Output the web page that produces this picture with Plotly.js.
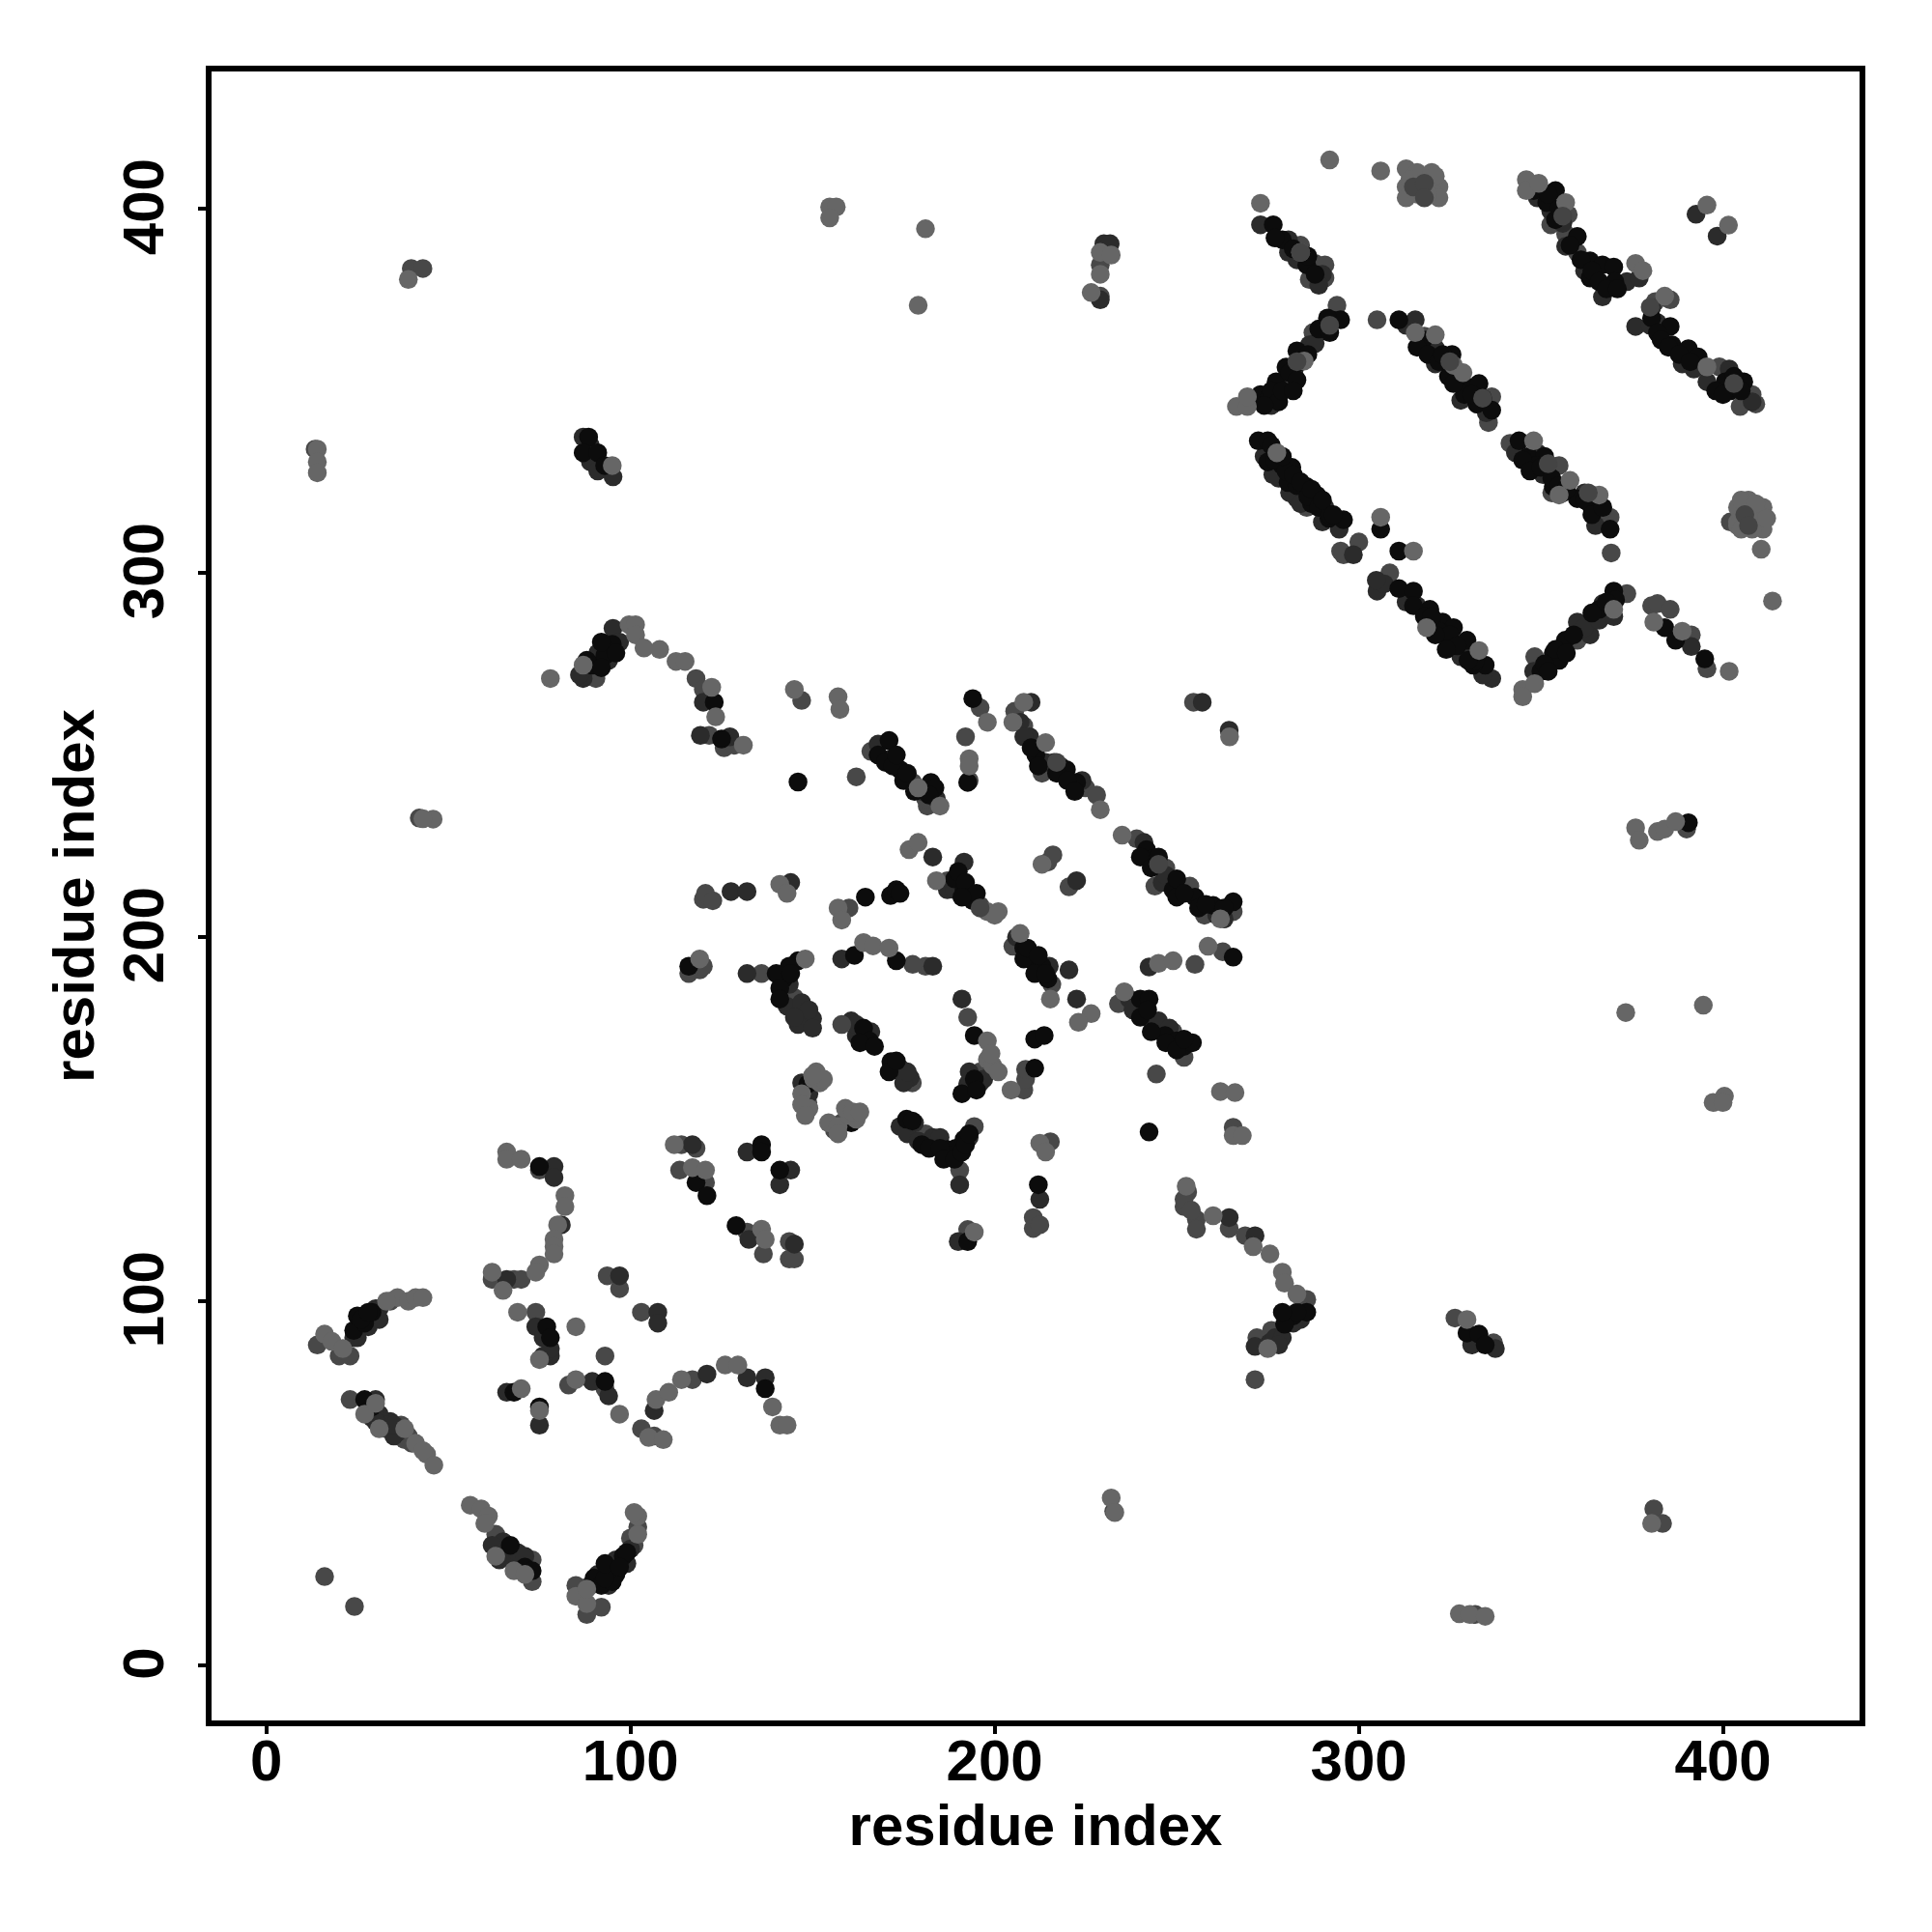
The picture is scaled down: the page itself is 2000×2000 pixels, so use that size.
<!DOCTYPE html>
<html><head><meta charset="utf-8">
<script src="https://cdn.plot.ly/plotly-3.0.1.min.js"></script>
<style>html,body{margin:0;padding:0;background:#fff}</style></head>
<body><div id="chart" style="width:2000px;height:2000px"></div>
<script>
var axisTicks = [0,100,200,300,400];
var axisLabel = "residue index";
var blackPoints = [[24,92],[25,96],[27,94],[29,97],[26,95],[27,73],[29,71],[67,33],[71,27],[73,26],[90,24],[92,22],[96,25],[95,23],[98,30],[99,31],
[75,137],[77,93],[78,90],[68,75],[75,71],[93,78],[137,76],[118,132.6],[121,129],[129,120.8],[136,143],[136,141],[141,136],
[146,242.6],[116,192],[146,193.5],[143.6,192],[142,188.5],[161.5,195],[173,193.5],[164.5,211],[171.4,211.4],[173,213],[174,212],
[171,254],[168,250],[174,246],[182.5,242.5],[183.6,241],[194,265.5],[192.6,242.5],[211.3,250],[219.7,246],[222.5,242.5],
[241.7,224],[243.4,221.6],[255,211],[260,208.7],[265.5,209.7],[249,213],[189,216],[191.6,213],[194,210],[208,197],[210.5,193.5],[213,192],[214.6,188.5],
[265.5,194.5],[240,183],[242.4,183],[246.8,173],[250,171.5],[252,170],[254.3,171],[242.4,146.5],[164,175],[165.6,171.5],[171.5,165.8],[194.4,173],[194.4,161],
[211,164],[211,172],[213.6,173],[148.7,159.7],[160.6,149],[175.8,150],[177.4,149.5],[187,141.7],[189.3,142],[191.6,144.5],[188,140],[212,132],[192.6,116.4],
[285.7,97],[282,96],[279.6,93.7],[89.5,274.7],[93,277.4],[95,280.4],[96,278],[123,264.5],[125,254.4],[88.5,337.3],[87,333],[91,333],[92.9,329.5],
[276.5,395.6],[279,391.5],[285.7,384.6],[273,349],[275.5,348.4],[277.3,352.5],[280,356.5],[283,361],[290.7,367.7],[293,369.4],[295,369.5],[291.4,370],
[311,369.5],[317.7,364],[325.6,360],[324.6,354],[330,351],[333,352],[332.4,346.4],[336.5,344.7],[344,336.3],[346.6,332],[351,332],[348.7,329.5],[353.4,323.7],[360,320.4],[356,322],[363.6,318.7],[369,312],
[272.4,336.3],[275,336.3],[275,330.5],[279,329.5],[281.6,329],[280.6,324.8],[285.7,323.7],[288.4,321.4],[291.8,315],[295.8,314.6],[287,319],[306,312],[311,306],
[311,295.7],[315,295],[319.5,290],[323,286.5],[326,285],[324.6,281.5],[329.7,281.5],[334.7,274.7],[331.4,274.7],[350,273],[353.4,278],[355,276],[356.7,281.5],[370,295],[366,290],[370.5,292.6],
[384,285],[387,281.5],[395,276.4],[348,405],[354,405],[351.6,401.7],[360,392.4],[363.5,385.7],[366.9,384.6],[363.5,381],[370,384],[370.3,380],[380.4,370],[385.5,367.7],[382,366],[386,362.6],[390.5,361.6],[393.2,359.3],[400.6,352.5],[405.7,352.5],[402,350],[403,351],
[390.5,231.4],[329.7,91.3],[333,91],[334.7,88]];
var blackBandPoints = [[277,331],[280,328],[283,324],[286,321],[289,318],[292,316],[276,335],[279,332],[282,327],[284,325],[287,323],[290,320],[293,316],
[316,362],[319,360],[322,358],[327,354],[329,349],[331,349],[334,348],[323,360],[326,352],[345,331],[347,328],[350,329],[353,326],[355,324],[357,323],[362,320],[364,316],[367,318],
[315,291],[318,288],[320,287],[322,284],[325,283],[327,280],[332,276],[321,283],[324,279],[330,276],[320,288],[351,275],[352,273],[354,279],[357,278],[359,283],[364,289],[368,292],
[276,350],[278,347],[279,350],[281,355],[283,353],[284,358],[286,360],[289,367],[292,366],[274,346],[282,350],[352,404],[354,397],[355,400],[358,390],[361,386],[364,383],[366,380],[368,378],[371,378],
[383,364],[385,362],[388,360],[391,358],[398,350],[400,349],[403,354],[405,350],[277,392],[282,389],[286,387],[288,382],
[170,248],[172,247],[173,250],[175,243],[176,245],[178,240],[182,239],[210,252],[212,247],[217,245],[220,243],[222,240],[240,222],[243,219],[245,222],[250,216],[250,211],[252,212],[256,208],[258,209],[263,208],
[190,218],[192,215],[193,211],[195,212],[191,211],[208,194],[209,197],[211,190],[212,195],[214,190],[240,178],[242,180],[243,174],[247,171],[250,169],[252,172],
[140,190],[141,186],[144,190],[141,183],[163,171],[167,170],[171,163],[173,166],[180,143],[182,142],[185,142],[186,139],[189,139],[191,141],[192,143],[193,146],[191,157],[195,158],[88,276],[92,274],[92,281],[93,24],[93,28],[97,27],[28,97],[283,97],[279,97]];
var darkPoints = [[24,90],[31,98],[28,93],[30,98],[30,73],[31,69],[34,67],[33,65],[36,64],[65,34],[66,30],[69,28],[91,25],[94,27],[96,29],
[79,137],[79,134],[81,121],[66,106],[74,93],[78,85],[66,75],[75,66],[89.5,78],[94,74],[97,107],[107.5,97],[107.5,94],[106.5,70],[121,80],[132,79],[137,79],
[117,143],[132.5,117],[145,115.7],[132,141],[144,136],[141,132],[143.6,187],[147,179],[148.7,178],[150,177.6],[158,194],[183,192],[132,190],
[127.6,212.5],[132,212.5],[144,215],[171.5,249],[210,264.5],[209.6,255],[216.3,248],[248.5,215.5],[222.5,215.5],[183,222],[191.6,220.6],[220.4,191],[222.5,183],
[242.4,191.8],[244.4,176.6],[160.6,177],[162,173],[174,164],[176.8,161.4],[191,183],[192.6,159.7],[196,160],[190.4,132],[212.4,128],[190,116.4],[183,145],[193,145],
[257,264.5],[264.4,256.8],[264.4,123],[271.5,118],[271.5,87.6],[275.5,88.6],[277,90],[87,271],[91,278],[95.2,284.8],[120,264.5],[119.2,255.4],[127.3,255],[87,337.3],[89,330.5],[90,331],[95.2,326.4],
[230,390.4],[231.7,390.4],[229,375],[273,395.6],[280.7,391.5],[280.7,388],[290,382],[277,348],[282.3,356],[286.4,362.6],[315.5,369.5],[321,361.7],[321,357.4],[328,347.4],
[350.6,327],[362,322],[276.4,327],[283,320.4],[290.7,318],[294.6,312],[298.5,305],[305,295],[307,297],[304.8,298],[316,291],[329.7,278],[336.5,271],[360,286.5],[363.5,283],[367,291.6],
[391.3,279.8],[352.7,399.4],[356.8,389.7],[362,383],[366.9,375.8],[373.6,380],[377,381],[376,367.7],[380.4,372.8],[382,368.7],[388.8,357.4],[401.7,356],[395.6,352.5],[392.6,398.5],[398.4,392.5],[331,88],[337.5,87],
[274,332],[278,326],[281,322],[284,319],[290,314],[313,368],[335,344],[343,333],[349,333],[365,313],[313,292],[328,277],[334,272],[348,273],[362,285],[366,287],[370,288],[276,346],[288,363],[349,403],[356,396],[380,368],[392,356],[408,347],[283,386],[289,379],
[168,253],[180,240],[184,238],[207,259],[208,255],[214,248],[218,247],[224,243],[241,226],[246,215],[247,217],[261,206],[263,205],[187,213],[189,213],[206,200],[215,192],[237,183],[238,180],[245,177],[248,175],
[143,181],[146,176],[147,182],[149,180],[150,175],[145,178],[162,176],[164,173],[166,174],[175,160],[176,163],[174,148],[176,146],[178,149],[179,144],[185,145],[193,163],[197,161],[86,272],[90,276],[94,276],[97,281],
[62,33],[64,29],[67,31],[69,31],[71,30],[89,22],[99,28],[100,32],[94,22],[25,90],[31,95],[28,71],[29,68],[32,67],[35,63],[76,90],[76,85],[78,87],[279,90],[284,95],[282,94],[278,88],[91,328],[89,335],
[33,66],[35,66],[30,67],[147,160],[149,157]];
var midPoints = [[14,88],[20,85],[23,85],[34,100],[23,73],[39,63],[37,66],[63,36],[64,32],[73,29],[73,23],[85,22],[88,14],[92,16],[101,33],[102,38],[100,35],
[75,136],[68,106],[70,106],[62,106],[74,97],[93,85],[83,77],[93,76],[93.6,107],[97,103.5],[103,97],[103,65],[106.5,63],[117,78.5],
[114,143],[118,142],[113.5,136],[120.6,132.6],[132,119],[136.5,113],[143.6,116.4],[143.6,111.6],[145,111.6],[147,265],[162,244],[119,191],[120,192],[116,190],[136,190],[145,183.4],
[181,192],[177.5,192.5],[120,210.4],[120.6,212],[122.6,210],[160,208],[166,251],[177.5,242.5],[181.5,236],[181,238],[196,263],[192,255],[193,243],[205.5,262],[208,258],[213,245],[225,241],[228,239],
[239,227],[247,219],[253.6,214],[265.5,207],[257.6,206],[244,214],[214.6,220.6],[216,222.6],[220.4,213.8],[187,215.5],[196,208.7],[205,197.5],[215.7,187],[255,192.5],[262.6,196],
[234,181.7],[241.7,179],[252,167],[249,174],[244.4,162.4],[177.4,160],[192.6,178],[196,163],[208,158],[208.5,161],[208.5,163.7],[148.7,154.6],[178.4,146],[181,146],[183.6,144.5],[194.4,148],[190.4,136],
[210.6,123],[210.6,120],[212.4,121],[192.6,119.7],[215.3,143.8],[254.6,264.5],[265.5,147.8],[252,126],[255.4,122.5],[255.4,119.8],[264.4,120],[268.8,118],[253,130],[285.7,100.5],[276,92],[272,90],[271.5,78.5],
[90.5,271],[118,271],[120,268],[121.6,255.4],[125.7,252],[128.4,252.7],[39.8,383.6],[43,383.6],[13.4,334],[42,232.7],[229,384.6],[229,376],[284,390],[288,385],[290.7,384.6],[286.4,380.6],[290.7,381],
[280.7,352.5],[287.4,366],[294,373.5],[305,369.5],[318,365],[336.5,348.4],[335.6,341.3],[341.5,335.6],[355,329.5],[353,322],[369,315.3],[366,315.3],[369.3,305.5],[285.7,318],[295.8,305],[300,308.5],[295,306],[308.5,300],
[348.3,277],[360,281.5],[363.5,286.5],[373.6,294.3],[380.4,291],[382,291.6],[385.5,290],[391.3,283],[395.6,273.7],[357.5,398.4],[352.7,395.6],[356.8,393],[360,388],[381.4,374.5],[385.5,375],[399,356.6],[408,349],[404.7,345.7],[409,346.4],
[402,314],[390,229.7],[326.4,95.4],[337,88.6],[332,14],[381,43],[383.4,39],[232.7,42.3],[16,24.4],[24.2,16.2],
[156,147],[158,149],[36,63],[38,62],[40,61],[252,128],[254,125]];
var lightPoints = [[16,91],[18,89],[21,87],[36,101],[39,100],[41,101],[43,101],[33,100],[27,69],[30,72],[31,65],[38,65],[41,61],[44,58],[46,55],[43,59],
[56,44],[59,43],[61,41],[60,39],[63,30],[68,26],[71,25],[85,19],[88,17],[88,21],[102,36],[102,41],[101,42],
[66,141],[66,139],[70,139],[82,129],[82,126],[80,121],[79,117],[79,115],[79,113],[75,110],[74,108],[62,108],[65,103],[69,97],[75,84],[85,93],[70,76],[75,70],[85,78.5],[97,69],
[105,62.6],[109,62],[107,73],[110.5,75],[114,78.5],[126,82.5],[129.5,82.5],[139,71],[141,66],[143,66],[112,143],[117,136.7],[120.6,136],[136,119.8],[137,117],
[145,268],[157,266],[157.5,262.5],[119,194],[148,194],[164,198.5],[166.6,197.6],[171,197],[141,214.5],[143,212],[157,208],[158,204.7],[179,241],[185,236],[198,259],[193,249],[193,247],
[208,264.5],[205,259],[214,253.4],[229,235],[235,228],[262,205],[213,220],[176.5,224],[179,226],[184,215.5],[198,207],[201,207],[200,206],[207,201],[215.3,183],[226.5,179],[223,176.6],
[245,192.8],[249,193.5],[258.6,197.5],[235.6,185],[198,171.5],[198,166.4],[199.5,164.7],[204.5,158],[150.3,161],[152,160],[147,157],[149,153],[154.4,149],[157,148],[160,151],[162,150],[194.4,119],
[212.4,143.4],[214,141],[264.5,255],[262,157.6],[266,157.3],[265.5,145.5],[268,145.5],[252.6,131.6],[260,123.5],[271,115],[275.6,113],[279,108],[279.6,105],[283,102],[275,87],
[78,271],[87,274.7],[99.6,285.8],[101.4,285.8],[101.4,283],[103.7,279.4],[108,279],[112.5,275.7],[115,275.7],[122.3,268.6],[123.4,260.5],[131,252.7],
[39,380.6],[14,334],[14,330.5],[14,327.5],[45.8,232.4],[43,232.5],[95,329.5],[154.7,400.5],[156.5,400.5],[154.7,397.5],[181,394.5],[179,373.5],[229,388],[232,387.3],[229,382],[226.5,377],
[292,413.4],[306,410.4],[313,411],[316,410],[320,410],[313,406],[322,406],[313,403],[316,404],[320,405],[273,401.5],[284,388],
[266.4,345.7],[269.4,345.7],[269.4,348.4],[285,358.2],[315.5,366],[321,365.4],[326,357],[328.6,355],[348,336.3],[358,325.4],[366,321.4],[355,321.4],[277.5,333],[306,315.3],[315,306],
[318.6,285],[333,278.7],[345,268],[348.3,269.6],[345,266],[370,290],[381,286.5],[388.8,284],[401.7,273],[346,408],[346,405],[349.4,407],[356.8,401.7],[376,385],[378,383],[384,376],[395.6,356.6],
[395.6,401],[401.5,395.5],[404,318],[407,320],[411,318],[404,314],[410,314],[411,312],[404,313],[408,312],[410.5,306.5],[413.6,292.3],
[376,230],[377,226.6],[382,229],[384,229.7],[387,231.7],[373.3,179.3],[394.6,181.3],[397.3,154.6],[400.4,156.3],[400,154.6],[329.7,95],[327.6,14.2],[330.4,14],[334.7,13.5],[380.4,39],[232,46],[233,42],
[314,408],[321,409],[322,403],[319,404],[405,320],[409,316],[409,319],[405,312],[412,315],[151,163],[153,161],[147,154],[148,151],[150,162],[159,153],[161,152],[163,152],[157,146],[199,168],[201,163]];
var topMidPoints = [[315,406],[318,407],[318,403],[406,316],[407,313],[325,358],[334,348],[352,330],[363,322],[283,358],[292,368],[356,398],[380,373],[403,352],[284,388],[217,248],[245,220],[196,208],[158,176]];

function trace(points, color){
  return {type:"scatter", mode:"markers", x:points.map(function(p){return p[0];}), y:points.map(function(p){return p[1];}),
    marker:{size:19.5,color:color,line:{width:0}}, hoverinfo:"x+y", showlegend:false};
}
var font = {family:'"Liberation Sans", Arial, sans-serif', size:60, color:"#000", weight:700};
function axis(range, angle, standoff, labelShift, labelSlide){
  return {range:range, tickmode:"array", tickvals:axisTicks, ticktext:axisTicks.map(String), tickangle:angle,
    ticks:"outside", ticklen:8, tickwidth:4, tickcolor:"#000", tickfont:font, ticklabelstandoff:labelShift, ticklabelshift:labelSlide,
    showgrid:false, zeroline:false, showline:true, linecolor:"#000", linewidth:6, mirror:true,
    title:{text:axisLabel, font:{family:font.family,size:60,color:"#000",weight:700}, standoff:standoff}};
}
var layout = {width:2000, height:2000, autosize:false, paper_bgcolor:"#fff", plot_bgcolor:"#fff", showlegend:false,
  margin:{l:219,r:75,t:74,b:219,pad:0},
  xaxis:axis([-15.04,437.5],0,14,-24,0),
  yaxis:axis([-15.1,437.7],-90,0,12,7)};
Plotly.newPlot("chart",[trace(midPoints,"#484848"),trace(darkPoints,"#2b2b2b"),trace(blackPoints.concat(blackBandPoints),"#0c0c0c"),trace(lightPoints,"#666666"),trace(topMidPoints,"#444444")],layout,{displayModeBar:false,staticPlot:true});
</script></body></html>
